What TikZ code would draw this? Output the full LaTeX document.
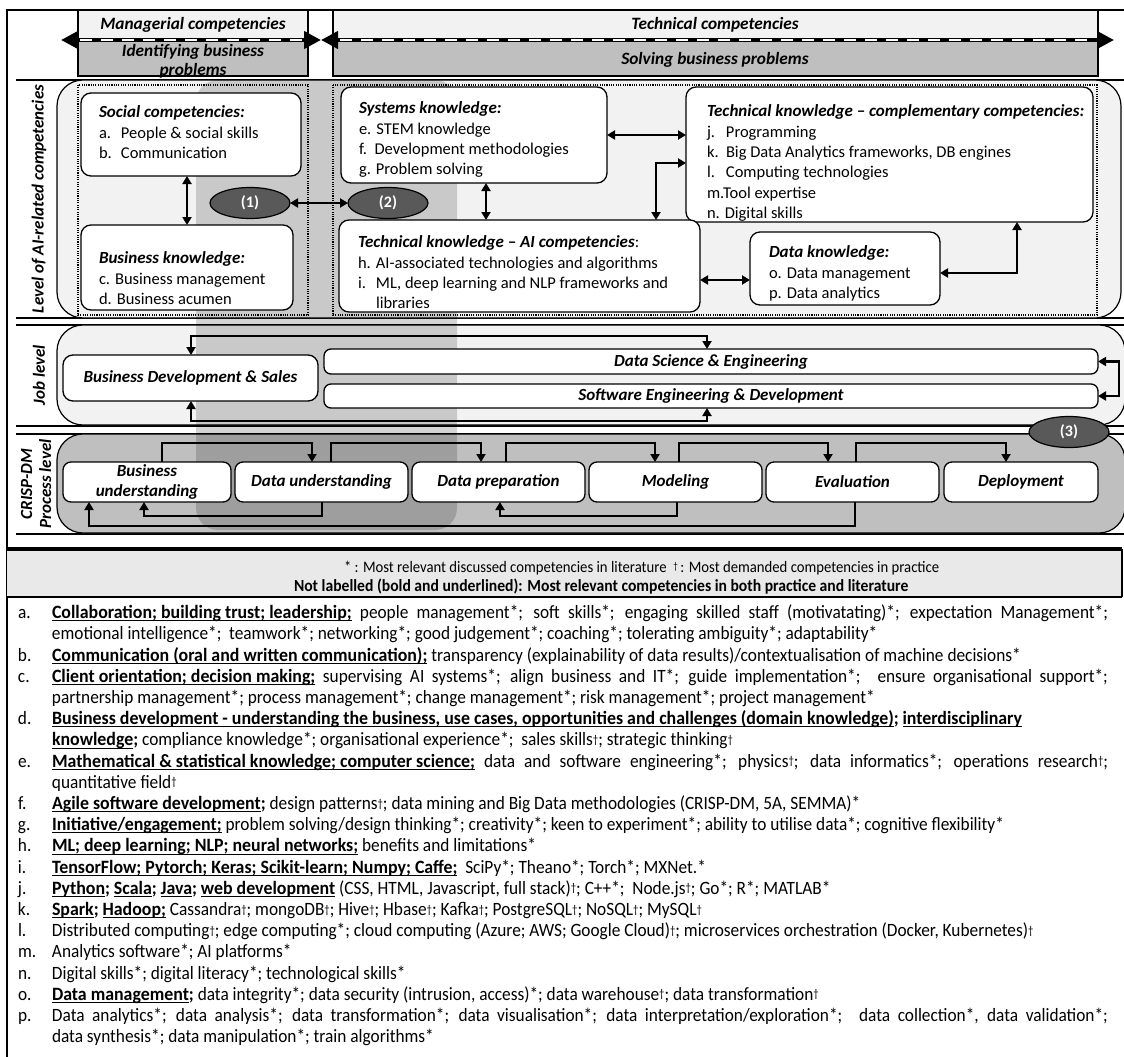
\documentclass[tikz,border=0pt]{standalone}
\usepackage{fontspec}
\setmainfont{Carlito}
\newfontfamily\narrowfont[FakeStretch=0.92]{Carlito}
\newfontfamily\widefont[FakeStretch=0.95]{Carlito}
\usetikzlibrary{arrows.meta,shapes.geometric}

\definecolor{palefill}{HTML}{F2F2F2}
\definecolor{midgray}{HTML}{BFBFBF}
\definecolor{taggray}{HTML}{595959}
\definecolor{legendgray}{HTML}{E9E9E9}

% bold text with a rule just under the baseline
\newcommand\bul[1]{\setbox0=\hbox{\widefont\bfseries #1}\rlap{\rule[-2.6pt]{\wd0}{1pt}}\box0{}}
\newcommand\bsemi{{\widefont\bfseries;}}
% small raised dagger
\newcommand\dg{\raisebox{2.5pt}{\scalebox{0.62}{\textdagger}}}
% heading font inside the competency boxes
\newcommand\bti{\fontsize{17}{20.3}\selectfont\bfseries\itshape}
% a wrapped line of the detail list, spread to the full measure
\newcommand\fullline[1]{\makebox[1056pt][s]{#1}}

\begin{document}
\begin{tikzpicture}[x=1pt,y=-1pt,
  every node/.style={inner sep=0pt, outer sep=0pt},
  frame/.style={line width=1.2pt},
  rulefine/.style={line width=1.2pt},
  level/.style={draw, line width=1.2pt, rounded corners=26pt},
  dots/.style={line width=1.1pt, dash pattern=on 1.1pt off 1.2pt},
  wbox/.style={draw, line width=1.3pt, fill=white, rounded corners=10pt, anchor=north west},
  stepbox/.style={wbox, rounded corners=8pt, minimum height=40pt, align=center,
    font=\fontsize{17}{20}\selectfont\bfseries\itshape},
  boxtext/.style={anchor=north west, align=left, font=\fontsize{16.5}{20.3}\selectfont},
  hdr/.style={font=\fontsize{17.3}{19}\selectfont\bfseries\itshape, align=center},
  jobtext/.style={font=\fontsize{17}{19}\selectfont\bfseries\itshape},
  rowlabel/.style={rotate=90, font=\fontsize{17}{19}\selectfont\bfseries\itshape, align=center},
  tag/.style={ellipse, draw=black, line width=1.2pt, fill=taggray, text=white,
    font=\fontsize{16}{18}\selectfont\bfseries, minimum width=80pt, minimum height=31pt},
  link/.style={line width=2.2pt, {Triangle[length=8pt,width=9pt]}-{Triangle[length=8pt,width=9pt]}},
  flow/.style={line width=2.2pt, -{Triangle[length=8pt,width=9pt]}},
  hdrarrow/.style={line width=4pt, {Triangle[length=17pt,width=17pt]}-{Triangle[length=17pt,width=17pt]}},
]
\useasboundingbox (0,0) rectangle (1124,1057);

% ---------- outer frame and row rules ----------
\draw[frame] (7,1057) -- (7,10) -- (1124,10);
\draw[rulefine] (16,80) -- (1124,80);
\draw[rulefine] (16,318) -- (1124,318);
\draw[rulefine] (16,325) -- (1124,325);
\draw[rulefine] (16,426) -- (1124,426);
\draw[rulefine] (16,434) -- (1124,434);
\draw[rulefine] (16,534) -- (1124,534);

% ---------- header ----------
\fill[palefill] (78,10) rectangle (308,40);
\fill[midgray] (78,40) rectangle (308,76);
\fill[palefill] (333,10) rectangle (1098,40);
\fill[midgray] (333,40) rectangle (1098,76);
\node[draw, line width=1.2pt, anchor=north west, minimum width=230pt, minimum height=66pt] (mgr) at (78,10) {};
\node[draw, line width=1.2pt, anchor=north west, minimum width=765pt, minimum height=66pt] (tec) at (333,10) {};
\node[hdr] (mgr-title) at (193,25) {Managerial competencies};
\node[hdr] (mgr-sub) at (193,61) {Identifying business\\problems};
\node[hdr] (tec-title) at (715,25) {Technical competencies};
\node[hdr] (tec-sub) at (715,60) {Solving business problems};

\coordinate (hl) at (61,40);
\coordinate (hm) at (321,40);
\coordinate (hr) at (1114,40);
\draw[hdrarrow] (hl) -- (hm);
\draw[hdrarrow] (hm) -- (hr);
\draw[white, line width=1.4pt, dash pattern=on 12pt off 9pt, shorten <=19pt, shorten >=19pt] (hl) -- (hm);
\draw[white, line width=1.4pt, dash pattern=on 12pt off 9pt, shorten <=19pt, shorten >=19pt] (hm) -- (hr);

% ---------- level frames ----------
\draw[level, fill=palefill] (57,80) rectangle (1121,318);
\draw[level, fill=palefill] (57,325) rectangle (1125,425);
\draw[level, fill=midgray] (57,434) rectangle (1125,533);

% shaded column behind the three levels
\fill[black, opacity=0.17, rounded corners=22pt] (196,80) rectangle (457,530);

\draw[dots] (78,85) rectangle (308,315);
\draw[dots] (333,85) rectangle (1097,315);

% ---------- row labels ----------
\node[rowlabel] (lab-ai) at (39,199) {Level of AI-related competencies};
\node[rowlabel] (lab-job) at (39,375) {Job level};
\node[rowlabel] (lab-crisp) at (36,484) {CRISP-DM\\Process level};

% ---------- competency boxes ----------
\node[wbox, minimum width=220pt, minimum height=83pt] (social) at (81,93) {};
\node[wbox, minimum width=212pt, minimum height=85pt] (business) at (81,225) {};
\node[wbox, minimum width=266pt, minimum height=96pt] (systems) at (341,87) {};
\node[wbox, minimum width=407pt, minimum height=135pt] (techcomp) at (686,87) {};
\node[wbox, minimum width=361pt, minimum height=92pt] (techai) at (339,220) {};
\node[wbox, minimum width=190pt, minimum height=73pt] (data) at (750,232) {};

\node[boxtext] (social-t) at (99,106) {{\bti Social competencies:}\\
  \makebox[22pt][l]{a.}People \& social skills\\
  \makebox[22pt][l]{b.}Communication};
\node[boxtext] (business-t) at (99,252) {{\bti Business knowledge:}\\
  c. Business management\\
  d. Business acumen};
\node[boxtext] (systems-t) at (359,102) {{\bti Systems knowledge:}\\
  e. STEM knowledge\\
  f.~~Development methodologies\\
  g. Problem solving};
\node[boxtext] (techcomp-t) at (707,105) {{\bti Technical knowledge -- complementary competencies:}\\
  \makebox[19pt][l]{j.}Programming\\
  \makebox[19pt][l]{k.}Big Data Analytics frameworks, DB engines\\
  \makebox[19pt][l]{l.}Computing technologies\\
  m.Tool expertise\\
  n. Digital skills};
\node[boxtext] (techai-t) at (358,236) {{\bti Technical knowledge -- AI competencies}:\\
  h. AI-associated technologies and algorithms\\
  \makebox[18pt][l]{i.}ML, deep learning and NLP frameworks and\\
  \hspace*{18pt}libraries};
\node[boxtext] (data-t) at (769,246) {{\bti Data knowledge:}\\
  o. Data management\\
  p. Data analytics};

\node[tag] (tag1) at (250,203) {(1)};
\node[tag] (tag2) at (388,203) {(2)};

% ---------- job boxes ----------
\node[wbox, minimum width=255pt, minimum height=46pt] (bds) at (63,355) {};
\node[jobtext] (bds-t) at (bds.center) {Business Development \& Sales};
\node[wbox, rounded corners=7pt, minimum width=774pt, minimum height=25pt] (dse) at (324,349) {};
\node[jobtext] (dse-t) at (dse.center) {Data Science \& Engineering};
\node[wbox, rounded corners=7pt, minimum width=774pt, minimum height=24pt] (sed) at (324,384) {};
\node[jobtext] (sed-t) at (sed.center) {Software Engineering \& Development};

\node[tag] (tag3) at (1069,432) {(3)};

% ---------- CRISP-DM phases ----------
\node[stepbox, minimum width=168pt] (bu) at (63,462) {Business\\understanding};
\node[stepbox, minimum width=173pt] (du) at (235,462) {Data understanding};
\node[stepbox, minimum width=173pt] (dp) at (412,462) {Data preparation};
\node[stepbox, minimum width=173pt] (mo) at (589,462) {Modeling};
\node[stepbox, minimum width=173pt] (ev) at (766,462) {Evaluation};
\node[stepbox, minimum width=154pt] (de) at (944,462) {Deployment};

% ---------- connectors between competency areas ----------
\coordinate (xa) at (187,0);
\coordinate (xb) at (486,0);
\coordinate (xc) at (656,0);
\coordinate (xd) at (1017,0);
\coordinate (ya) at (0,135);
\coordinate (yb) at (0,163);
\coordinate (yc) at (0,280);
\coordinate (yd) at (0,273);
\draw[link] (xa |- social.south) -- (xa |- business.north);
\draw[link] (tag1.east) -- (tag2.west);
\draw[link] (xb |- systems.south) -- (xb |- techai.north);
\draw[link] (systems.east |- ya) -- (techcomp.west |- ya);
\draw[link] (techcomp.west |- yb) -- (xc |- yb) -- (xc |- techai.north);
\draw[link] (techai.east |- yc) -- (data.west |- yc);
\draw[link] (data.east |- yd) -- (xd |- yd) -- (xd |- techcomp.south);

% ---------- connectors between jobs ----------
\coordinate (xj1) at (191,0);
\coordinate (xj2) at (707,0);
\coordinate (xj3) at (1119,0);
\coordinate (yj1) at (0,336);
\coordinate (yj2) at (0,421);
\draw[link] (xj1 |- bds.north) -- (xj1 |- yj1) -- (xj2 |- yj1) -- (xj2 |- dse.north);
\draw[link] (xj1 |- bds.south) -- (xj1 |- yj2) -- (xj2 |- yj2) -- (xj2 |- sed.south);
\draw[link] (dse.east) -- (xj3 |- dse.east) -- (xj3 |- sed.east) -- (sed.east);

% ---------- CRISP-DM flow ----------
\coordinate (yt) at (0,443);
\coordinate (yr1) at (0,516);
\coordinate (yr2) at (0,526);
\draw[flow] (162,0 |- bu.north) -- (162,0 |- yt) -- (312,0 |- yt) -- (312,0 |- du.north);
\draw[flow] (331,0 |- du.north) -- (331,0 |- yt) -- (481,0 |- yt) -- (481,0 |- dp.north);
\draw[flow] (506,0 |- dp.north) -- (506,0 |- yt) -- (655,0 |- yt) -- (655,0 |- mo.north);
\draw[flow] (679,0 |- mo.north) -- (679,0 |- yt) -- (828,0 |- yt) -- (828,0 |- ev.north);
\draw[flow] (856,0 |- ev.north) -- (856,0 |- yt) -- (1006,0 |- yt) -- (1006,0 |- de.north);
\draw[flow] (322,0 |- du.south) -- (322,0 |- yr1) -- (144,0 |- yr1) -- (144,0 |- bu.south);
\draw[flow] (677,0 |- mo.south) -- (677,0 |- yr1) -- (500,0 |- yr1) -- (500,0 |- dp.south);
\draw[flow] (855,0 |- ev.south) -- (855,0 |- yr2) -- (89,0 |- yr2) -- (89,0 |- bu.south);

% ---------- legend ----------
\fill[legendgray] (7,549) rectangle (1122,597);
\draw[line width=3.2pt] (7,549) -- (1122,549);
\draw[rulefine] (7,597) -- (1122,597);
\draw[rulefine] (1122,549) -- (1122,597);
\node[anchor=west, font=\narrowfont\fontsize{16}{20}\selectfont] (leg1) at (344,568)
  {* : Most relevant discussed competencies in literature~~\dg\,: Most demanded competencies in practice};
\node[anchor=west, font=\narrowfont\fontsize{17}{20}\selectfont\bfseries] (leg2) at (294,587)
  {Not labelled (bold and underlined): Most relevant competencies in both practice and literature};

% ---------- competency details ----------
\node[anchor=north west, align=left, font=\narrowfont\fontsize{18.8}{21.2}\selectfont] (details) at (18,605) {%
\makebox[34pt][l]{a.}\fullline{\bul{Collaboration; building trust; leadership;} people management*; soft skills*; engaging skilled staff (motivatating)*; expectation Management*;}\\
\hspace*{34pt}emotional intelligence*;~ teamwork*; networking*; good judgement*; coaching*; tolerating ambiguity*; adaptability*\\
\makebox[34pt][l]{b.}\bul{Communication (oral and written communication);} transparency (explainability of data results)/contextualisation of machine decisions*\\
\makebox[34pt][l]{c.}\fullline{\bul{Client orientation; decision making;} supervising AI systems*; align business and IT*; guide implementation*;~ ensure organisational support*;}\\
\hspace*{34pt}partnership management*; process management*; change management*; risk management*; project management*\\
\makebox[34pt][l]{d.}\bul{Business development - understanding the business, use cases, opportunities and challenges (domain knowledge)}\bsemi{} \bul{interdisciplinary}\\
\hspace*{34pt}\bul{knowledge}\bsemi{} compliance knowledge*; organisational experience*;~ sales skills\dg; strategic thinking\dg\\
\makebox[34pt][l]{e.}\fullline{\bul{Mathematical \& statistical knowledge; computer science;} data and software engineering*; physics\dg; data informatics*; operations research\dg;}\\
\hspace*{34pt}quantitative field\dg\\
\makebox[34pt][l]{f.}\bul{Agile software development}\bsemi{} design patterns\dg; data mining and Big Data methodologies (CRISP-DM, 5A, SEMMA)*\\
\makebox[34pt][l]{g.}\bul{Initiative/engagement;} problem solving/design thinking*; creativity*; keen to experiment*; ability to utilise data*; cognitive flexibility*\\
\makebox[34pt][l]{h.}\bul{ML; deep learning; NLP; neural networks;} benefits and limitations*\\
\makebox[34pt][l]{i.}\bul{TensorFlow; Pytorch; Keras; Scikit-learn; Numpy; Caffe;}~ SciPy*; Theano*; Torch*; MXNet.*\\
\makebox[34pt][l]{j.}\bul{Python}\bsemi{} \bul{Scala}\bsemi{} \bul{Java}\bsemi{} \bul{web development} (CSS, HTML, Javascript, full stack)\dg; C++*;~ Node.js\dg; Go*; R*; MATLAB*\\
\makebox[34pt][l]{k.}\bul{Spark}\bsemi{} \bul{Hadoop;} Cassandra\dg; mongoDB\dg; Hive\dg; Hbase\dg; Kafka\dg; PostgreSQL\dg; NoSQL\dg; MySQL\dg\\
\makebox[34pt][l]{l.}Distributed computing\dg; edge computing*; cloud computing (Azure; AWS; Google Cloud)\dg; microservices orchestration (Docker, Kubernetes)\dg\\
\makebox[34pt][l]{m.}Analytics software*; AI platforms*\\
\makebox[34pt][l]{n.}Digital skills*; digital literacy*; technological skills*\\
\makebox[34pt][l]{o.}\bul{Data management}\bsemi{} data integrity*; data security (intrusion, access)*; data warehouse\dg; data transformation\dg\\
\makebox[34pt][l]{p.}\fullline{Data analytics*; data analysis*; data transformation*; data visualisation*; data interpretation/exploration*;~ data collection*, data validation*;}\\
\hspace*{34pt}data synthesis*; data manipulation*; train algorithms*};

\end{tikzpicture}
\end{document}
